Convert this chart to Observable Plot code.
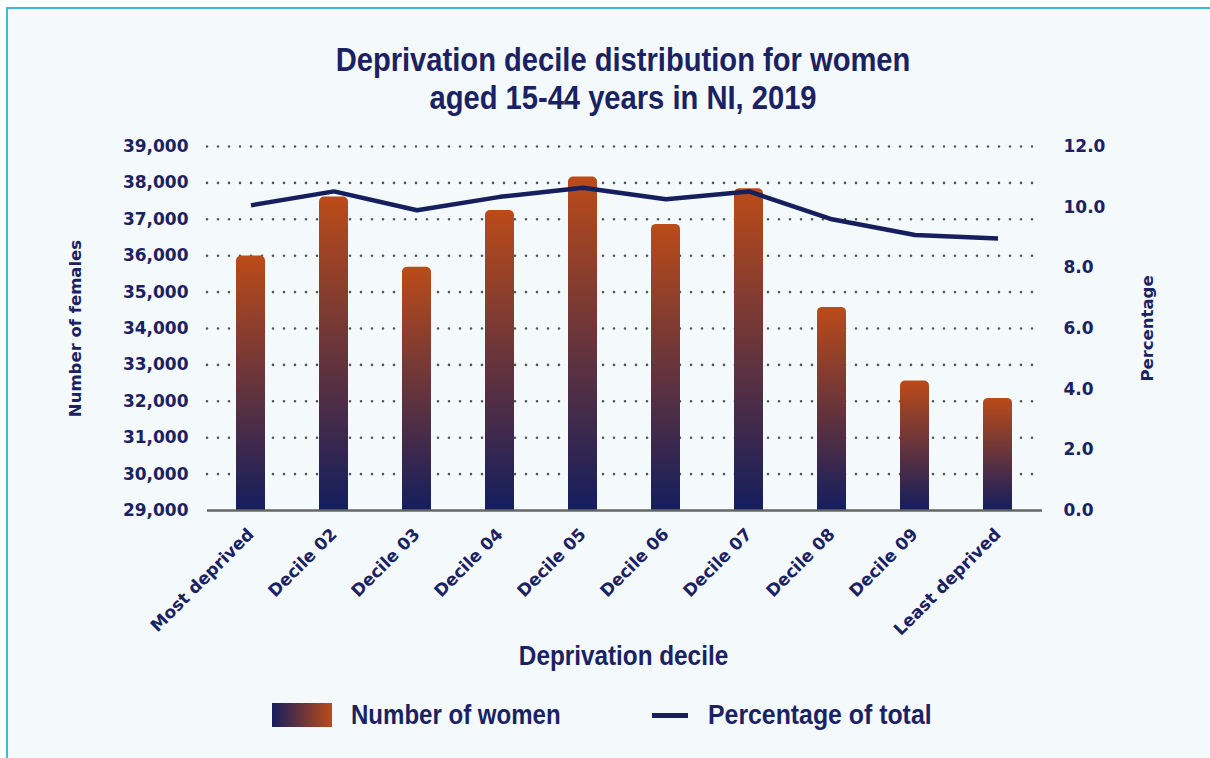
<!DOCTYPE html>
<html>
<head>
<meta charset="utf-8">
<script src="https://cdn.jsdelivr.net/npm/d3@7"></script>
<script src="https://cdn.jsdelivr.net/npm/@observablehq/plot@0.6"></script>
<style>
  html, body { margin: 0; padding: 0; background: #ffffff; width: 1210px; height: 758px; overflow: hidden; }
  #panel { position: absolute; left: 6px; top: 7px; width: 1260px; height: 800px; background: #f4f9fc;
           border-left: 2px solid #3dbbd3; border-top: 2px solid #3dbbd3; }
  .cond { font-family: "Liberation Sans", Arial, sans-serif;
          font-weight: bold; color: #1b2262; position: absolute; white-space: nowrap; }
  #title { left: 0; width: 1246px; top: 40px; text-align: center; font-size: 34px; line-height: 38px;
           transform: scaleX(0.857); transform-origin: 623px 0; }
  #xlabel { left: 0; width: 1247px; top: 640px; text-align: center; font-size: 27px; line-height: 32px;
            transform: scaleX(0.9); transform-origin: 623.5px 0; }
  #legend1 { left: 351px; top: 699px; font-size: 27px; line-height: 32px; transform: scaleX(0.89); transform-origin: 0 0; }
  #legend2 { left: 708px; top: 699px; font-size: 27px; line-height: 32px; transform: scaleX(0.92); transform-origin: 0 0; }
  #sw1 { position: absolute; left: 272px; top: 703px; width: 60px; height: 24px;
         background: linear-gradient(to right, #161f5e, #bb4b19); }
  #sw2 { position: absolute; left: 652px; top: 713px; width: 36px; height: 4.5px; background: #161f5e; }
</style>
</head>
<body>
<div id="panel"></div>
<div id="title" class="cond">Deprivation decile distribution for women<br>aged 15-44 years in NI, 2019</div>
<div id="xlabel" class="cond">Deprivation decile</div>
<div id="sw1"></div>
<div id="legend1" class="cond">Number of women</div>
<div id="sw2"></div>
<div id="legend2" class="cond">Percentage of total</div>
<script>
// ---- data ----
const deciles = ["Most deprived", "Decile 02", "Decile 03", "Decile 04", "Decile 05",
                 "Decile 06", "Decile 07", "Decile 08", "Decile 09", "Least deprived"];
const numberOfWomen = [35990, 37610, 35680, 37240, 38160, 36860, 37840, 34580, 32560, 32080];
const percentageOfTotal = [10.06, 10.52, 9.90, 10.34, 10.64, 10.26, 10.52, 9.60, 9.08, 8.97];
const leftTicks = [29000, 30000, 31000, 32000, 33000, 34000, 35000, 36000, 37000, 38000, 39000];
const rightTicks = [0, 2, 4, 6, 8, 10, 12];

const navy = "#1b2262";
const rows = deciles.map((d, i) => ({decile: d, count: numberOfWomen[i], pct: percentageOfTotal[i]}));

// secondary (percentage) axis mapped onto the count axis
const pctToCount = d3.scaleLinear([0, 12], [29000, 39000]);

const chart = Plot.plot({
  width: 1210,
  height: 758,
  marginTop: 146,
  marginBottom: 248,
  marginLeft: 207,
  marginRight: 168,
  style: {background: "transparent", position: "absolute", left: "0px", top: "0px",
          fontFamily: "DejaVu Sans", fontWeight: "bold", color: navy, overflow: "visible"},
  x: {type: "band", domain: deciles, paddingInner: 0.647, paddingOuter: 0.3235},
  y: {domain: [29000, 39000]},
  marks: [
    Plot.gridY(leftTicks.slice(1), {stroke: "#555555", strokeOpacity: 1, strokeWidth: 2.6,
                                    strokeDasharray: "0,11", strokeLinecap: "round"}),
    Plot.barY(rows, {x: "decile", y1: 29000, y2: "count", fill: "url(#barGrad)", ry1: 5}),
    Plot.ruleY([29000], {stroke: "#666666", strokeWidth: 2.5}),
    Plot.line(rows, {x: "decile", y: d => pctToCount(d.pct), stroke: "#161f5e", strokeWidth: 4.5,
                     strokeLinecap: "butt", strokeLinejoin: "miter"}),
    Plot.axisY(leftTicks, {anchor: "left", tickSize: 0, tickPadding: 19, label: null,
                           tickFormat: d3.format(","), fontSize: 17, fill: navy}),
    Plot.axisY(rightTicks.map(p => pctToCount(p)), {anchor: "right", tickSize: 0, tickPadding: 21, label: null,
                           tickFormat: d => pctToCount.invert(d).toFixed(1), fontSize: 17, fill: navy}),
    Plot.axisX({tickRotate: -45, tickSize: 0, tickPadding: 21, label: null, fontSize: 17, fill: navy}),
    Plot.text(["Number of females"], {text: d => d, frameAnchor: "left", dx: -132, rotate: -90,
                                      textAnchor: "middle", fontSize: 16.5, fill: navy}),
    Plot.text(["Percentage"], {text: d => d, frameAnchor: "right", dx: 105, rotate: -90,
                               textAnchor: "middle", fontSize: 16.5, fill: navy})
  ]
});

const svg = d3.select(chart);
const grad = svg.insert("defs", ":first-child").append("linearGradient")
  .attr("id", "barGrad").attr("x1", 0).attr("y1", 0).attr("x2", 0).attr("y2", 1);
grad.append("stop").attr("offset", "0%").attr("stop-color", "#bb4b19");
grad.append("stop").attr("offset", "100%").attr("stop-color", "#141e5e");

document.body.appendChild(chart);
</script>
</body>
</html>
